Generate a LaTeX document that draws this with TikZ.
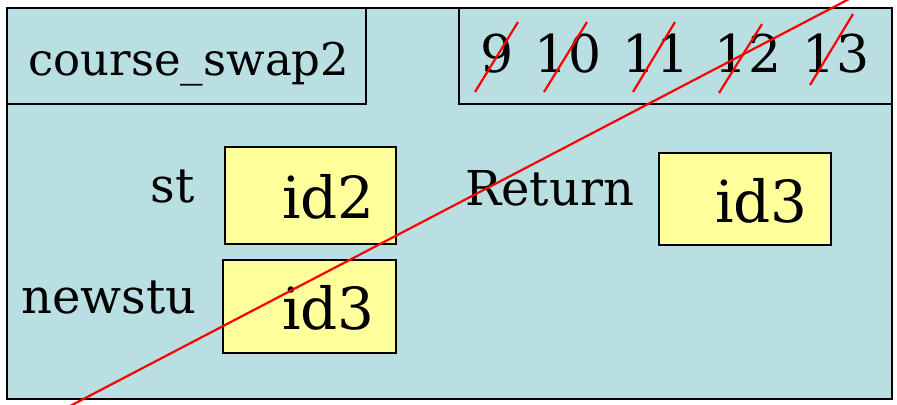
\documentclass[tikz,border=0pt]{standalone}
\usepackage{fontspec}
\setmainfont{DejaVu Serif}
\usetikzlibrary{positioning}
\definecolor{framebg}{HTML}{B9DFE3}
\definecolor{cellbg}{HTML}{FFFF9C}

\begin{document}
\begin{tikzpicture}[x=0.5pt,y=-0.5pt,
  frame/.style={draw=black,fill=framebg,line width=0.7pt},
  cell/.style={draw=black,fill=cellbg,line width=0.7pt,inner sep=0pt},
  txt/.style={font=\fontsize{24}{28}\selectfont,inner sep=0pt},
  line no/.style={txt,font=\fontsize{26}{30}\selectfont,anchor=base},
  value/.style={txt,font=\fontsize{29}{34}\selectfont,anchor=base east},
  strike/.style={red,line width=1.1pt}]
\useasboundingbox (0,0) rectangle (897,404);
\clip (0,0) rectangle (897,404);

\draw[frame] (7,8) rectangle (892,399);
\draw[frame] (7,8) rectangle (366,104);
\draw[frame] (459,8) rectangle (892,104);

\node[txt,font=\fontsize{22.5}{26}\selectfont,anchor=base west] (fname) at (28,75) {course\_swap2};
\node[line no] (l9) at (497,72) {9};
\node[line no] (l10) at (568,72) {10};
\node[line no] (l11) at (656,72) {11};
\node[line no] (l12) at (748,72) {12};
\node[line no] (l13) at (836,72) {13};

\node[cell,minimum width=85.5pt,minimum height=48.5pt] (stbox) at (310.5,195.5) {};
\node[cell,minimum width=86.5pt,minimum height=46.5pt] (newbox) at (309.5,306.5) {};
\node[cell,minimum width=86pt,minimum height=46pt] (retbox) at (745,199) {};

\node[txt,anchor=base east] (st) at (195,202) {st};
\node[txt,anchor=base east] (newstu) at (197,313) {newstu};
\node[txt,anchor=base west] (ret) at (465,205) {Return};
\node[value] (stval) at (375,218) {id2};
\node[value] (newval) at (375,329) {id3};
\node[value] (retval) at (808,222) {id3};

% crossed out
\draw[strike] (70,406) -- (851,-2);
\draw[strike] (475,92) -- (518,22);
\draw[strike] (544,92) -- (587,22);
\draw[strike] (633,92) -- (675,22);
\draw[strike] (719,93) -- (762,24);
\draw[strike] (810,85) -- (853,14);

\end{tikzpicture}
\end{document}
